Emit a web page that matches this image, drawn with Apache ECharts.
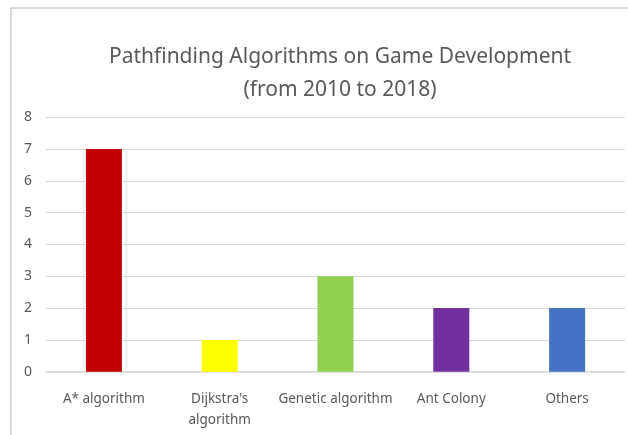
<!DOCTYPE html>
<html>
<head>
<meta charset="utf-8">
<script src="https://cdn.jsdelivr.net/npm/echarts@6/dist/echarts.min.js"></script>
<style>
html,body{margin:0;padding:0;background:#fff;}
#chart{width:628px;height:435px;}
</style>
</head>
<body>
<div id="chart"></div>
<script>
const titleText = 'Pathfinding Algorithms on Game Development\n(from 2010 to 2018)';
const categories = ['A* algorithm', "Dijkstra's algorithm", 'Genetic algorithm', 'Ant Colony', 'Others'];
const values = [7, 1, 3, 2, 2];
const barColors = ['#C00000', '#FFFF00', '#92D050', '#7030A0', '#4472C4'];
const yTicks = [0, 1, 2, 3, 4, 5, 6, 7, 8];

const chart = echarts.init(document.getElementById('chart'), null, {renderer: 'canvas'});
const font = '"Noto Sans", "Open Sans", sans-serif';
chart.setOption({
  backgroundColor: '#fff',
  animation: false,
  title: {
    text: titleText,
    left: 335,
    textAlign: 'center',
    top: 35.5,
    textStyle: {fontFamily: font, fontSize: 21, fontWeight: 'normal', color: '#595959', lineHeight: 33}
  },
  graphic: [
    {type: 'line', shape: {x1: 11, y1: 8, x2: 628, y2: 8}, style: {stroke: '#d9d9d9', lineWidth: 2}},
    {type: 'line', shape: {x1: 11, y1: 8, x2: 11, y2: 435}, style: {stroke: '#d9d9d9', lineWidth: 2}}
  ],
  grid: {left: 46, right: 3, top: 117.3, bottom: 435 - 371.7, containLabel: false},
  xAxis: {
    type: 'category',
    data: categories,
    axisLine: {lineStyle: {color: '#d9d9d9', width: 1.5}},
    axisTick: {show: false},
    axisLabel: {
      fontFamily: font, fontSize: 13.5, color: '#595959', margin: 17, lineHeight: 21,
      interval: 0,
      formatter: v => v.length > 18 ? v.replace(' ', '\n') : v
    }
  },
  yAxis: {
    type: 'value',
    min: yTicks[0],
    max: yTicks[yTicks.length - 1],
    interval: 1,
    axisLine: {show: false},
    axisTick: {show: false},
    splitLine: {lineStyle: {color: '#d9d9d9', width: 1}},
    axisLabel: {fontFamily: font, fontSize: 14, color: '#595959', margin: 14}
  },
  series: [{
    type: 'bar',
    data: values.map((v, i) => ({value: v, itemStyle: {color: barColors[i]}})),
    barWidth: 36
  }]
});
</script>
</body>
</html>
